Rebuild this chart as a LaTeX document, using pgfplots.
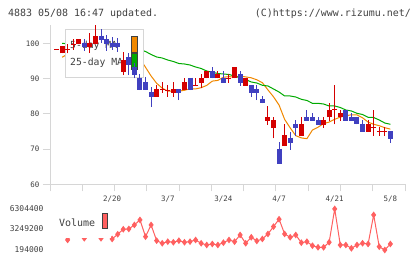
\documentclass[border=0pt]{standalone}
\usepackage{fontspec}
\usepackage{pgfplots}
\usepackage{pgfplotstable}
\pgfplotsset{compat=1.18}
\setmainfont{DejaVu Sans Mono}
\definecolor{cred}{RGB}{212,0,0}
\definecolor{cblue}{RGB}{64,64,192}
\definecolor{corange}{RGB}{240,136,0}
\definecolor{cgreen}{RGB}{0,170,0}
\definecolor{cvol}{RGB}{255,96,96}
\definecolor{caxis}{RGB}{214,214,214}
\definecolor{ctext}{RGB}{64,64,64}

% up candles (red): index open high low close
\pgfplotstableread{
i o h l c
1 97.22 99.29 97.22 99.29
4 99.86 101.20 99.86 101.20
6 99.09 103.07 97.30 100.23
7 99.86 105.26 99.86 102.22
12 91.99 97.50 91.05 95.31
18 84.89 88.21 84.89 86.99
21 86.02 89.15 84.89 87.08
23 86.79 90.29 86.79 89.15
26 88.87 91.34 87.28 90.29
27 90.12 92.19 90.12 92.19
29 90.12 92.19 90.12 91.34
32 90.12 93.33 90.12 93.33
34 88.01 90.12 88.01 90.12
38 78.07 82.25 76.85 79.12
39 76.08 79.04 73.07 78.27
41 70.88 77.13 70.88 74.01
44 73.81 79.04 73.81 77.13
48 76.85 79.04 76.08 78.27
49 79.04 83.01 78.07 81.11
51 79.04 81.11 78.07 80.17
56 74.95 78.27 74.95 77.05
}\up

% down candles (blue)
\pgfplotstableread{
i o h l c
5 100.23 101.20 97.96 99.09
8 102.22 104.12 100.14 101.00
9 101.28 102.42 97.90 99.86
10 100.23 101.93 98.16 99.09
11 100.23 101.48 97.67 99.09
13 96.08 97.22 91.05 93.89
14 93.41 94.46 90.12 91.05
15 90.29 91.25 86.79 86.79
16 89.07 90.40 86.79 86.79
17 86.31 87.73 82.05 84.89
22 87.08 87.08 83.95 86.02
24 90.29 90.29 86.79 86.79
28 92.19 93.41 90.12 90.12
30 90.29 92.19 88.87 88.87
33 91.34 92.19 88.01 88.87
35 88.21 88.21 84.89 86.02
36 87.08 88.21 83.95 86.02
37 84.23 85.09 83.01 83.01
40 70.03 72.10 65.77 65.77
42 73.24 74.95 69.75 71.82
43 77.13 78.27 73.72 76.08
45 79.04 81.11 78.07 78.07
46 79.04 80.17 78.07 78.07
47 78.27 79.04 76.85 76.85
52 81.11 81.11 78.07 78.07
53 79.04 80.17 78.07 78.07
54 79.04 79.04 77.05 77.05
55 77.05 78.27 74.95 74.95
60 75.14 75.14 71.82 72.87
}\down

% doji candles (open = close)
\pgfplotstableread{
i o h l c
0 98.16 98.16 98.16 98.16
2 98.35 99.77 97.22 98.35
3 99.77 101.20 98.16 99.77
19 86.99 89.15 86.02 86.99
20 86.51 88.21 84.89 86.51
25 88.21 90.29 88.21 88.21
31 90.12 91.34 88.87 90.12
50 81.11 88.21 77.05 81.11
57 76.20 81.11 73.81 76.20
58 75.14 76.20 73.81 75.14
59 75.14 76.20 73.81 75.14
}\doji

% moving averages: index ma5 ma25
\pgfplotstableread{
i m5 m25
1 96.08 100.06
2 97.00 99.92
3 97.87 99.80
4 98.72 99.69
5 99.35 99.58
6 99.55 99.46
7 99.72 99.35
8 100.51 99.24
9 100.74 99.12
10 100.49 99.01
11 100.49 98.87
12 100.26 98.72
13 98.87 98.55
14 97.45 98.38
15 95.68 98.30
16 93.24 97.73
17 90.77 96.88
18 88.70 96.17
19 87.30 95.88
20 86.48 95.31
21 86.42 94.89
22 86.48 94.32
23 86.71 94.18
24 87.16 93.89
25 87.10 93.33
26 87.45 92.90
27 88.10 92.19
28 89.32 91.82
29 89.52 91.48
30 90.43 91.34
31 90.57 91.20
32 90.51 90.77
33 90.74 90.20
34 90.51 89.77
35 90.26 89.07
36 89.69 88.78
37 88.87 88.13
38 86.82 87.93
39 84.86 87.08
40 82.50 86.22
41 78.44 85.09
42 76.03 85.09
43 73.81 84.80
44 73.18 84.15
45 72.96 83.81
46 75.43 83.01
47 76.22 83.01
48 77.25 82.81
49 77.67 82.25
50 78.47 82.25
51 79.09 81.82
52 79.49 81.11
53 79.75 80.83
54 79.72 80.17
55 78.89 79.83
56 77.67 79.04
57 77.05 78.98
58 76.65 78.27
59 76.08 77.41
60 75.68 77.05
}\ma

% volume
\pgfplotstableread{
i v
0 2600000
1 2700000
2 1620000
3 2600000
4 2700000
5 1870000
6 2600000
7 2700000
8 1870000
9 2600000
10 1766000
11 2463000
12 3205000
13 3249000
14 3842000
15 4584000
16 2107000
17 3842000
18 1514000
19 1128000
20 1366000
21 1277000
22 1514000
23 1277000
24 1366000
25 1618000
26 1128000
27 876000
28 1024000
29 876000
30 1217000
31 1618000
32 1366000
33 2359000
34 1128000
35 2018000
36 1470000
37 1766000
38 2508000
39 3590000
40 4688000
41 2508000
42 2018000
43 2359000
44 1217000
45 1366000
46 772000
47 535000
48 535000
49 1277000
50 6215000
51 876000
52 876000
53 387000
54 876000
55 1128000
56 1024000
57 5326000
58 624000
59 135000
60 1024000
}\vol

\pgfplotsset{
  priceaxis/.style={
    at={(50bp,74.7bp)}, anchor=south west, scale only axis,
    width=355bp, height=159.3bp,
    xmin=-1.168, xmax=62.632, ymin=60, ymax=105.26,
    clip=false,
  },
}

\begin{document}
\begin{tikzpicture}[x=1bp,y=1bp]
\path[use as bounding box] (0,0) rectangle (420,259);
\node[anchor=west, inner sep=0pt, font=\fontsize{10}{12}\selectfont, text=ctext] at (8,245.7) {4883 05/08 16:47 updated.};
\node[anchor=east, inner sep=0pt, font=\fontsize{10}{12}\selectfont, text=ctext] at (411,245.7) {(C)https://www.rizumu.net/};

% price axis with the moving averages
\begin{axis}[
  priceaxis,
  axis lines*=left,
  axis line style={caxis, line width=1bp},
  every tick/.style={caxis, line width=1bp},
  tick align=outside, major tick length=7bp,
  ytick={60,70,80,90,100},
  xtick={-1.168,4.632,10.432,16.232,22.032,27.832,33.632,39.432,45.232,51.032,56.832,62.632},
  xticklabels={},
  extra x ticks={10,20,30,40,50,60},
  extra x tick labels={2/20,3/7,3/24,4/7,4/21,5/8},
  extra x tick style={major tick length=0pt, xticklabel style={yshift=-8bp}},
  ticklabel style={font=\fontsize{7.5}{8}\selectfont, text=ctext},
  /pgf/number format/assume math mode=true,
]
\addplot[corange, line width=1bp, mark=none] table[x=i, y=m5] {\ma};
\addplot[cgreen, line width=1bp, mark=none] table[x=i, y=m25] {\ma};
\end{axis}

% legend box (over the averages, under the candles)
\draw[caxis, line width=1bp, fill=white] (65,229) rectangle (143.3,181.7);
\node[anchor=west, inner sep=0pt, font=\fontsize{9.8}{12}\selectfont, text=ctext] at (70,213) {5-day MA};
\node[anchor=west, inner sep=0pt, font=\fontsize{9.8}{12}\selectfont, text=ctext] at (70,195.7) {25-day MA};
\draw[black!75, line width=1bp, fill=corange] (131,222.3) rectangle (137.3,206.7);
\draw[black!75, line width=1bp, fill=cgreen] (131,205) rectangle (137.3,189.7);

% candles, same axis geometry
\begin{axis}[priceaxis, axis lines=none]
\addplot[cred, line width=1bp, mark=none, quiver={u=0, v=\thisrow{h}-\thisrow{l}}]
  table[x=i, y=l] {\up};
\addplot[cblue, line width=1bp, mark=none, quiver={u=0, v=\thisrow{h}-\thisrow{l}}]
  table[x=i, y=l] {\down};
\addplot[cred, line width=1bp, mark=none, quiver={u=0, v=\thisrow{h}-\thisrow{l}}]
  table[x=i, y=l] {\doji};
\addplot[cred, line width=5bp, mark=none, quiver={u=0, v=\thisrow{c}-\thisrow{o}}]
  table[x=i, y=o] {\up};
\addplot[cblue, line width=5bp, mark=none, quiver={u=0, v=\thisrow{c}-\thisrow{o}}]
  table[x=i, y=o] {\down};
\addplot[only marks, mark=-, mark size=2.5bp, mark options={cred, line width=1bp}]
  table[x=i, y=c] {\doji};
\end{axis}

% volume
\begin{axis}[
  at={(50bp,8.1bp)}, anchor=south west, scale only axis,
  width=355bp, height=42.6bp,
  xmin=-1.168, xmax=62.632, ymin=0, ymax=6304400,
  axis lines*=left,
  axis line style={draw=none},
  major tick length=0pt,
  xtick=\empty,
  ytick={194000,3249200,6304400},
  yticklabels={194000,3249200,6304400},
  yticklabel style={xshift=-3bp},
  scaled y ticks=false,
  ticklabel style={font=\fontsize{8}{9}\selectfont, text=ctext},
  clip=false,
]
\addplot[cvol, line width=1bp, mark=diamond*, mark size=2.6bp, mark options={cvol}] table[x=i, y=v] {\vol};
\end{axis}
% volume legend box, drawn over the first volume points
\fill[white] (52,21.3) rectangle (111,50);
\node[anchor=west, inner sep=0pt, font=\fontsize{10}{12}\selectfont, text=ctext] at (59,36.7) {Volume};
\draw[black!75, line width=1bp, fill=cvol] (102,45.7) rectangle (107.3,30.7);
\end{tikzpicture}
\end{document}
